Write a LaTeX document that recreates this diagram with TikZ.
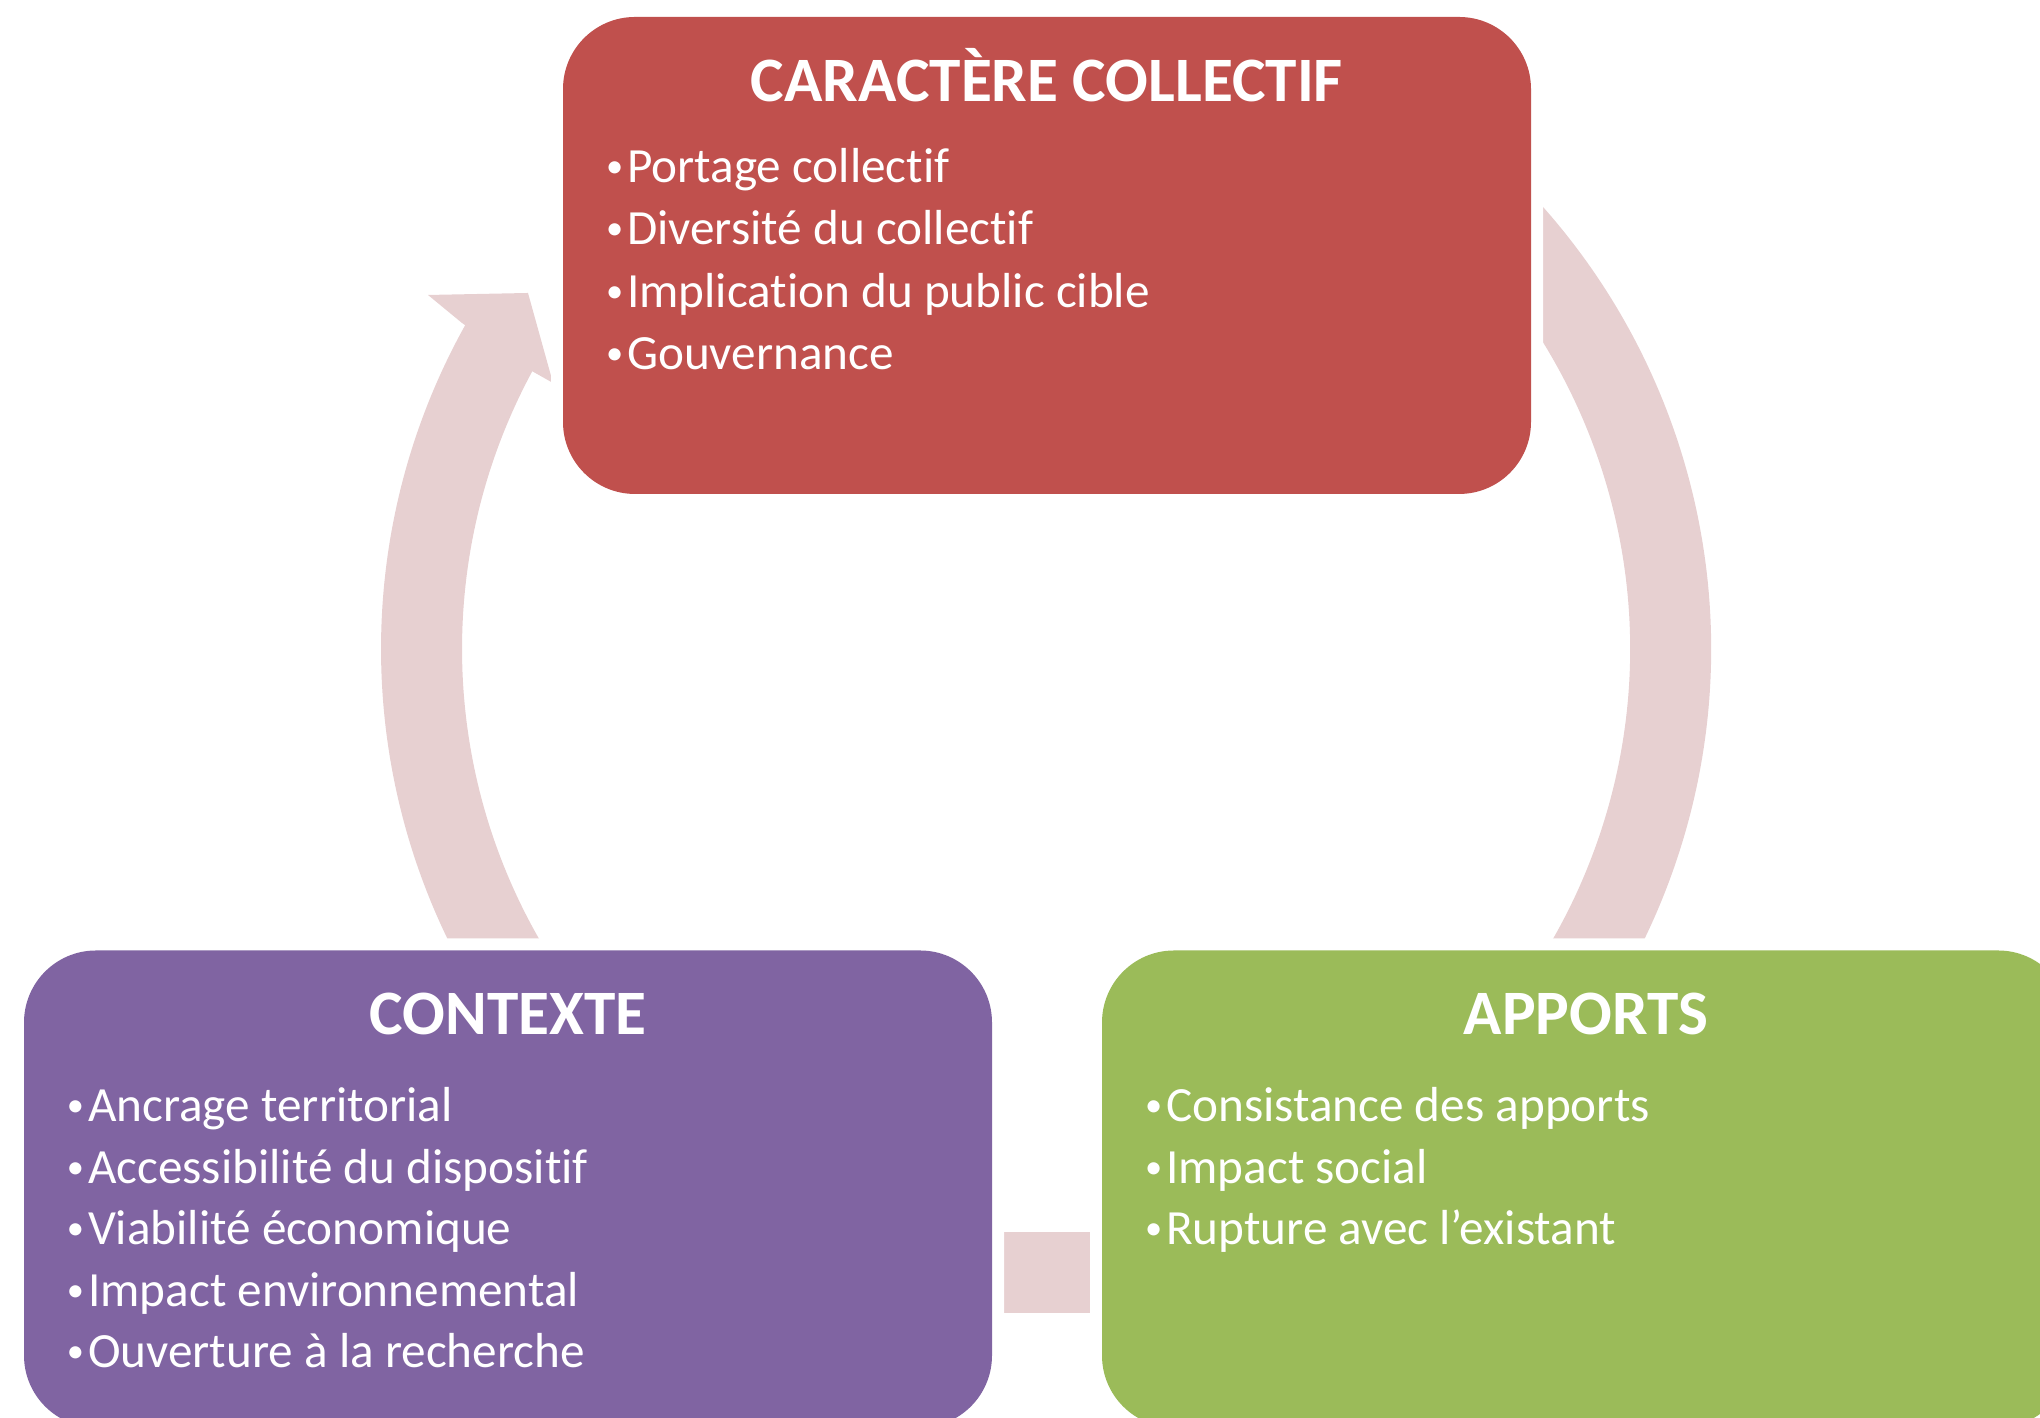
\documentclass[tikz,border=0pt]{standalone}
\usepackage{fontspec}
\setmainfont{Carlito}[Ligatures=NoCommon]
\usetikzlibrary{positioning,backgrounds}
\definecolor{boxred}{RGB}{192,80,77}
\definecolor{boxpurple}{RGB}{128,100,162}
\definecolor{boxgreen}{RGB}{155,187,89}
\definecolor{ringpink}{RGB}{231,208,209}
\newcommand{\itemdot}{\raisebox{0.1em}{\scalebox{0.7}{•}}\hspace{0.08em}}
\begin{document}
\begin{tikzpicture}[line join=round,
	cyclearc/.style={draw=ringpink, line width=0.81cm, line cap=butt},
	box/.style={rounded corners=0.72cm, minimum width=9.68cm, minimum height=4.77cm, inner sep=0pt,
		preaction={draw=white, line width=0.24cm}},
	boxtitle/.style={anchor=base, inner sep=0pt, text=white, font=\fontsize{18}{20}\selectfont\bfseries},
	item/.style={anchor=base west, inner sep=0pt, text=white, font=\fontsize{14}{16}\selectfont}]
	\useasboundingbox (0,0) rectangle (20.4,14.18);
	\clip (0,0) rectangle (20.4,14.18);
	\def\r{6.245}
	\coordinate (ctr) at (10.46,7.69);
	% les trois blocs
	\node[box, fill=boxred] (coll) at (10.47,11.625) {};
	\node[box, fill=boxpurple] (ctx) at (5.08,2.29) {};
	\node[box, fill=boxgreen] (app) at (15.86,2.29) {};
	\node[boxtitle] (collT) at ([yshift=-0.85cm]coll.north) {CARACTÈRE COLLECTIF};
	\node[boxtitle] (ctxT) at ([yshift=-0.85cm]ctx.north) {CONTEXTE};
	\node[boxtitle] (appT) at ([yshift=-0.85cm]app.north) {APPORTS};
	\foreach \t [count=\i, evaluate=\i as \yy using -1.66-(\i-1)*0.625] in
		{Portage collectif, Diversité du collectif, Implication du public cible, Gouvernance}
		\node[item] (coll\i) at ([xshift=0.43cm, yshift=\yy cm]coll.north west) {\itemdot\t};
	\foreach \t [count=\i, evaluate=\i as \yy using -1.72-(\i-1)*0.615] in
		{Ancrage territorial, Accessibilité du dispositif, Viabilité économique, Impact environnemental, Ouverture à la recherche}
		\node[item] (ctx\i) at ([xshift=0.43cm, yshift=\yy cm]ctx.north west) {\itemdot\t};
	\foreach \t [count=\i, evaluate=\i as \yy using -1.72-(\i-1)*0.615] in
		{Consistance des apports, Impact social, Rupture avec l’existant}
		\node[item] (app\i) at ([xshift=0.43cm, yshift=\yy cm]app.north west) {\itemdot\t};
	% fleches du cycle, sous les blocs
	\begin{scope}[on background layer]
		\draw[cyclearc] ([shift={(70:\r)}]ctr) arc[start angle=70, end angle=-75, radius=\r];
		\draw[cyclearc] ([yshift=-0.84cm]ctx.east) -- ([yshift=-0.84cm]app.west);
		\draw[cyclearc] ([shift={(150.8:\r)}]ctr) arc[start angle=150.8, end angle=255, radius=\r];
		\fill[ringpink] (4.62,10.95) -- (4.28,11.23) -- (5.28,11.25) -- (5.53,10.35) -- (5.30,10.48) -- cycle;
	\end{scope}
\end{tikzpicture}
\end{document}
